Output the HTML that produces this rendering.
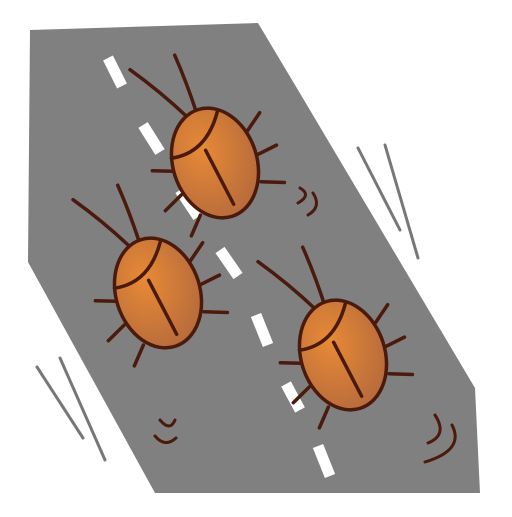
<!DOCTYPE html>
<html><head><meta charset="utf-8"><style>html,body{margin:0;padding:0;background:#fff}</style></head>
<body>
<svg width="512" height="512" viewBox="0 0 512 512">
<defs>
<radialGradient id="g" cx="0.4" cy="0.35" r="0.7">
<stop offset="0" stop-color="#e88a36"/><stop offset="1" stop-color="#b56a3c"/></radialGradient>
<g id="bug" stroke="#4a1a0c" stroke-width="3.5" stroke-linecap="round" fill="none">
<path d="M-12,-52 Q-30,-85 -52,-115"/><path d="M-2,-52 Q-2,-85 -5,-115"/>
<path d="M-42,-5 L-62,-12"/><path d="M-42,20 L-62,30"/><path d="M-30,45 L-45,62"/>
<path d="M40,-20 L58,-34"/><path d="M44,5 L64,2"/><path d="M38,32 L60,40"/>
<ellipse cx="0" cy="0" rx="42" ry="56" fill="url(#g)"/>
<path d="M-40,-18 Q-5,-12 18,-48"/><path d="M-5,-15 L5,45"/>
</g>
</defs>
<polygon points="30,30 258,23 298,90 475,388 480,493 155,493 28,262" fill="#808080"/>
<g stroke="#fff" stroke-width="11">
<line x1="108" y1="58" x2="122" y2="86"/><line x1="143" y1="125" x2="160" y2="152"/>
<line x1="180" y1="190" x2="198" y2="217"/><line x1="220" y1="250" x2="238" y2="276"/>
<line x1="256" y1="315" x2="268" y2="345"/><line x1="286" y1="384" x2="300" y2="410"/>
<line x1="318" y1="446" x2="330" y2="476"/></g>
<use href="#bug" transform="translate(215,163) rotate(-18)"/>
<use href="#bug" transform="translate(158,293) rotate(-18)"/>
<use href="#bug" transform="translate(343,355) rotate(-18)"/>
<g stroke="#777" stroke-width="3" stroke-linecap="round" fill="none">
<line x1="358" y1="148" x2="400" y2="230"/><line x1="385" y1="145" x2="418" y2="258"/>
<line x1="37" y1="367" x2="83" y2="438"/><line x1="60" y1="358" x2="105" y2="460"/></g>
<g stroke="#4a1a0c" stroke-width="3" stroke-linecap="round" fill="none">
<path d="M300,188 Q312,195 298,203"/><path d="M313,193 Q322,207 308,215"/>
<path d="M160,420 Q170,432 175,420"/><path d="M155,436 Q165,448 176,438"/>
<path d="M435,415 Q448,435 428,443"/><path d="M452,425 Q465,450 425,462"/></g>
</svg>
</body></html>
